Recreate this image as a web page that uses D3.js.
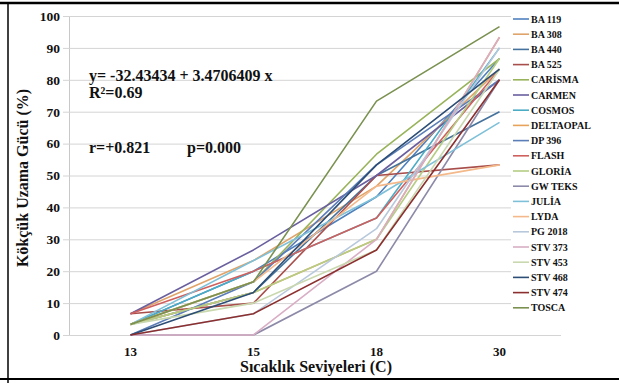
<!DOCTYPE html>
<html>
<head>
<meta charset="utf-8">
<script src="https://cdn.jsdelivr.net/npm/d3@7"></script>
<style>
  html, body { margin: 0; padding: 0; background: #fff; }
  svg { display: block; }
  text { font-family: "Liberation Serif", "Times New Roman", serif; font-weight: bold; fill: #111; }
</style>
</head>
<body>
<svg id="chart" width="619" height="383"></svg>
<script>
// Temperature levels (x categories) and y ticks
const categories = ["13", "15", "18", "30"];
const yTicks = [0, 10, 20, 30, 40, 50, 60, 70, 80, 90, 100];

// Cultivar names and line colours
const seriesNames = ["BA 119", "BA 308", "BA 440", "BA 525", "CARİSMA", "CARMEN", "COSMOS",
  "DELTAOPAL", "DP 396", "FLASH", "GLORİA", "GW TEKS", "JULİA", "LYDA", "PG 2018",
  "STV 373", "STV 453", "STV 468", "STV 474", "TOSCA"];
const seriesColors = ["#4F81BD", "#E0A46A", "#44729C", "#A84E4B", "#98B35A", "#6A5F9E", "#4BACC6",
  "#E8A35A", "#5B7DB8", "#D0605E", "#B5CD85", "#8C8AA8", "#7EC0D8", "#F4B98A", "#B8C8DC",
  "#D8AEC4", "#C9D8AE", "#2C4D75", "#8C2F2F", "#7A9150"];

// Radicle elongation (%) per cultivar at 13, 15, 18 and 30 °C
const ba119    = [3.33, 20.00, 43.33, 86.67];
const ba308    = [6.67, 23.33, 46.67, 83.33];
const ba440    = [3.33, 13.33, 50.00, 70.00];
const ba525    = [6.67, 10.00, 50.00, 53.33];
const carisma  = [3.33, 16.67, 56.67, 86.67];
const carmen   = [6.67, 26.67, 50.00, 80.00];
const cosmos   = [3.33, 20.00, 36.67, 90.00];
const deltaopal= [3.33, 13.33, 30.00, 93.33];
const dp396    = [0.00, 16.67, 53.33, 80.00];
const flash    = [6.67, 20.00, 36.67, 83.33];
const gloria   = [3.33, 13.33, 30.00, 86.67];
const gwteks   = [0.00, 0.00, 20.00, 80.00];
const julia    = [3.33, 23.33, 43.33, 66.67];
const lyda     = [3.33, 16.67, 46.67, 53.33];
const pg2018   = [0.00, 6.67, 33.33, 90.00];
const stv373   = [0.00, 0.00, 30.00, 93.33];
const stv453   = [3.33, 10.00, 26.67, 83.33];
const stv468   = [0.00, 13.33, 53.33, 83.33];
const stv474   = [0.00, 6.67, 26.67, 80.00];
const tosca    = [3.33, 16.67, 73.33, 96.67];

const seriesValues = [ba119, ba308, ba440, ba525, carisma, carmen, cosmos, deltaopal, dp396, flash,
  gloria, gwteks, julia, lyda, pg2018, stv373, stv453, stv468, stv474, tosca];

const svg = d3.select("#chart");

// Page frame
svg.append("line").attr("x1", 0).attr("x2", 619).attr("y1", 3).attr("y2", 3)
  .attr("stroke", "#000").attr("stroke-width", 2.5);
svg.append("line").attr("x1", 8).attr("x2", 8).attr("y1", 3).attr("y2", 383)
  .attr("stroke", "#000").attr("stroke-width", 1.5);
svg.append("line").attr("x1", 0).attr("x2", 619).attr("y1", 379).attr("y2", 379)
  .attr("stroke", "#000").attr("stroke-width", 2);

const plotLeft = 69, plotRight = 561;
const x = d3.scaleBand().domain(categories).range([plotLeft, plotRight]);
const y = d3.scaleLinear().domain([0, 100]).range([335, 16]);
const cx = c => x(c) + x.bandwidth() / 2;

// Horizontal gridlines with short outer ticks
const yAxis = d3.axisLeft(y).tickValues(yTicks)
  .tickSizeInner(-(plotRight - plotLeft)).tickSizeOuter(0).tickPadding(9);
const gy = svg.append("g").attr("transform", `translate(${plotLeft},0)`).call(yAxis);
gy.select(".domain").attr("stroke", "#c8c8c8");
gy.selectAll(".tick line").attr("stroke", "#d4d4d4").attr("x1", -6);
gy.selectAll(".tick text").style("font-size", "13.5px").attr("fill", "#111");

// Category axis
const xAxis = d3.axisBottom(x).tickSize(0).tickPadding(12);
const gx = svg.append("g").attr("transform", "translate(0,335)").call(xAxis);
gx.select(".domain").remove();
gx.selectAll(".tick text").style("font-size", "13px").attr("fill", "#111");

// Cultivar lines
const line = d3.line().x((d, i) => cx(categories[i])).y(d => y(d));
svg.append("g").selectAll("path").data(seriesValues).join("path")
  .attr("d", d => line(d))
  .attr("fill", "none")
  .attr("stroke", (d, i) => seriesColors[i])
  .attr("stroke-width", 1.6)
  .attr("stroke-linejoin", "round");

// Legend
const legend = svg.append("g");
legend.append("rect").attr("x", 511).attr("y", 10).attr("width", 100).attr("height", 306).attr("fill", "#fff");
const items = legend.selectAll("g.item").data(seriesNames).join("g")
  .attr("class", "item")
  .attr("transform", (d, i) => `translate(513,${19 + i * 15.2})`);
items.append("line").attr("x1", 0).attr("x2", 16).attr("y1", 0).attr("y2", 0)
  .attr("stroke", (d, i) => seriesColors[i]).attr("stroke-width", 1.6);
items.append("text").attr("x", 18).attr("y", 3.5).style("font-size", "10px").text(d => d);

// Regression annotations
const ann = svg.append("g").style("font-size", "16px");
ann.append("text").attr("x", 89).attr("y", 81).text("y= -32.43434 + 3.4706409 x");
ann.append("text").attr("x", 89).attr("y", 98).text("R²=0.69");
ann.append("text").attr("x", 89).attr("y", 153).text("r=+0.821");
ann.append("text").attr("x", 187).attr("y", 153).text("p=0.000");

// Axis titles
svg.append("text").attr("x", 316).attr("y", 372).attr("text-anchor", "middle")
  .style("font-size", "16px").text("Sıcaklık Seviyeleri (C)");
svg.append("text").attr("transform", "translate(28,178) rotate(-90)").attr("text-anchor", "middle")
  .style("font-size", "16px").text("Kökçük Uzama Gücü (%)");
</script>
</body>
</html>
